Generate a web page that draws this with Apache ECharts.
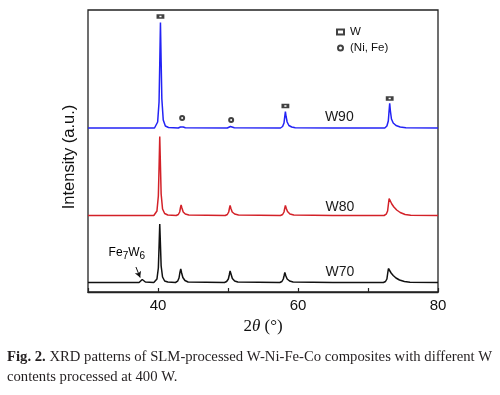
<!DOCTYPE html>
<html><head><meta charset="utf-8">
<script src="https://cdn.jsdelivr.net/npm/echarts@6/dist/echarts.min.js"></script>
<style>html,body{margin:0;padding:0;background:#fff}#c{width:500px;height:395px}</style>
</head><body><div id="c"></div>
<script>
// 2θ (deg) vs intensity (a.u., offset stacked)
const w90 = [[30,164],[35,164],[39.5,164],[39.7,165],[39.95,170],[40.15,190],[40.25,228],[40.35,269.5],[40.45,230],[40.55,193],[40.75,172],[41.05,166],[41.5,164.5],[42.9,164],[43.2,165],[43.4,166],[43.6,165],[43.9,164.2],[49.9,164],[50.15,164.8],[50.35,165.5],[50.6,164.7],[50.9,164.2],[57.5,164],[57.8,165.5],[58.0,169],[58.1,175],[58.2,180.3],[58.3,175.5],[58.45,170],[58.7,166.5],[59.1,165],[59.6,164.3],[65,164],[72.4,164],[72.7,166],[72.9,171],[73.0,180],[73.1,188.7],[73.2,181],[73.35,173],[73.6,169],[74.0,166.5],[74.6,165],[75.4,164.3],[80,164]];
const w80 = [[30,76.5],[35,76.5],[39.4,76.5],[39.6,77.5],[39.85,81],[40.05,96],[40.15,124],[40.25,155.5],[40.35,126],[40.45,98],[40.65,83],[40.95,78.5],[41.4,77],[42.6,76.5],[42.9,77.5],[43.1,80],[43.2,84],[43.3,87],[43.42,84],[43.6,80],[43.9,78],[44.4,77],[49.6,76.5],[49.9,77.5],[50.1,80],[50.2,83.5],[50.3,86.5],[50.42,83.5],[50.6,80],[50.95,78],[51.5,77],[57.5,76.5],[57.8,77.5],[58.0,80],[58.1,83.5],[58.2,86.5],[58.33,83.5],[58.5,80.5],[58.85,78],[59.4,77],[65,76.5],[72.3,76.5],[72.6,77.8],[72.8,81],[72.92,88],[73.02,93.5],[73.15,92],[73.4,88],[73.7,85],[74.1,82],[74.6,79.5],[75.3,77.5],[76.1,76.8],[80,76.5]];
const w70 = [[30,9.5],[35,9.5],[37.3,9.5],[37.55,10.5],[37.75,12.5],[37.95,11.5],[38.2,10],[39.4,9.5],[39.6,10.5],[39.85,13],[40.05,24],[40.15,45],[40.25,68],[40.35,47],[40.45,26],[40.65,15],[40.95,11],[41.4,10],[42.5,9.5],[42.8,10.8],[43.0,14],[43.12,19],[43.25,23],[43.38,19],[43.55,14.5],[43.85,11.5],[44.3,10],[49.5,9.5],[49.8,10.5],[50.05,13],[50.18,17],[50.3,21],[50.45,17.5],[50.62,13.5],[50.95,11],[51.4,10],[57.4,9.5],[57.7,10.5],[57.9,13],[58.02,16.5],[58.12,19.5],[58.27,16],[58.45,13],[58.8,11],[59.3,10],[65,9.5],[72.2,9.5],[72.5,10.5],[72.7,13],[72.82,19],[72.92,23.5],[73.05,22],[73.3,19],[73.6,16.5],[74.0,14],[74.5,12],[75.2,10.5],[76,9.8],[80,9.5]];
const wMarks = [[40.35,275.5],[58.2,186],[73.1,193.5]];
const niFeMarks = [[43.45,174],[50.45,172]];
const xTickLabels = {40:'40',60:'60',80:'80'};
const sampleLabels = [['W90',65.9,175],['W80',66.0,85],['W70',66.0,20]];
const phaseNote = ['Fe', '7', 'W', '6'];
const arrowFrom = [36.85,25], arrowTo = [37.45,14.5];
const noteAt = [35.55,39];

const chart = echarts.init(document.getElementById('c'), null, {renderer:'canvas'});
const sans = 'Liberation Sans, Arial, sans-serif';
const serif = 'Liberation Serif, Times New Roman, serif';
const lineSeries = (name, data, color, extra) => Object.assign({
  name, type:'line', data, symbol:'none', silent:true,
  lineStyle:{color, width:1.5}, itemStyle:{color}, z:2
}, extra||{});

const option = {
  animation:false,
  backgroundColor:'#fff',
  grid:{left:88, right:62, top:10, bottom:103, show:true, borderColor:'#222', borderWidth:1.3, backgroundColor:'transparent'},
  legend:{
    orient:'vertical', left:331, top:21, itemWidth:7, itemHeight:5, itemGap:4,
    textStyle:{fontFamily:sans, fontSize:11.5, color:'#111', padding:[0,0,0,1]},
    data:['W','(Ni, Fe)']
  },
  xAxis:{
    type:'value', min:30, max:80, interval:10,
    axisLine:{show:true, lineStyle:{color:'#222', width:1.3}},
    axisTick:{show:true, inside:true, length:4, lineStyle:{color:'#222', width:1.2}},
    splitLine:{show:false},
    axisLabel:{fontFamily:sans, fontSize:15, color:'#111', margin:6, formatter:v => xTickLabels[v]||''},
    name:'{n|2}{t|θ}{n| (°)}', nameLocation:'middle', nameGap:26,
    nameTextStyle:{rich:{n:{fontFamily:serif, fontSize:17, color:'#111'}, t:{fontFamily:serif, fontSize:17, fontStyle:'italic', color:'#111'}}}
  },
  yAxis:{type:'value', min:0, max:282, show:false},
  series:[
    lineSeries('W90', w90, '#2323f5'),
    lineSeries('W80', w80, '#d32128'),
    lineSeries('W70', w70, '#111111', {
      markLine:{silent:true, symbol:['none','arrow'], symbolSize:[5,6],
        lineStyle:{color:'#111', width:1, type:'solid'}, label:{show:false},
        data:[[{coord:arrowFrom},{coord:arrowTo}]]}
    }),
    {name:'W', type:'scatter', data:wMarks, symbol:'rect', symbolSize:[5,3], z:3,
      itemStyle:{color:'#fff', borderColor:'#111', borderWidth:2.2}},
    {name:'(Ni, Fe)', type:'scatter', data:niFeMarks, symbol:'circle', symbolSize:4, z:3,
      itemStyle:{color:'#fff', borderColor:'#111', borderWidth:2}}
  ]
};
chart.setOption(option);

const graphics = [];
sampleLabels.forEach(([t,x,y]) => {
  const p = chart.convertToPixel({gridIndex:0}, [x,y]);
  graphics.push({type:'text', x:p[0], y:p[1], style:{text:t, fontFamily:sans, fontSize:14, fill:'#1a1a1a', align:'center', verticalAlign:'middle'}});
});
const np = chart.convertToPixel({gridIndex:0}, noteAt);
graphics.push({type:'text', x:np[0], y:np[1], style:{
  text:'{m|'+phaseNote[0]+'}{s|'+phaseNote[1]+'}{m|'+phaseNote[2]+'}{s|'+phaseNote[3]+'}',
  align:'center', verticalAlign:'middle',
  rich:{m:{fontFamily:sans, fontSize:12, color:'#1a1a1a'}, s:{fontFamily:sans, fontSize:10, color:'#1a1a1a', padding:[6,0,0,0]}}
}});
graphics.push({type:'text', x:69, y:157, rotation:Math.PI/2, style:{text:'Intensity (a.u.)', fontFamily:sans, fontSize:16.5, fill:'#111', align:'center', verticalAlign:'middle'}});
graphics.push({type:'text', x:7, y:357, style:{
  text:'{b|Fig. 2.} XRD patterns of SLM-processed W-Ni-Fe-Co composites with different W',
  fontFamily:serif, fontSize:14.7, fill:'#231f20', verticalAlign:'middle',
  rich:{b:{fontFamily:serif, fontSize:14.7, fontWeight:'bold', color:'#231f20'}}
}});
graphics.push({type:'text', x:7, y:377, style:{text:'contents processed at 400 W.', fontFamily:serif, fontSize:14.7, fill:'#231f20', verticalAlign:'middle'}});
chart.setOption({graphic:graphics});
</script></body></html>
